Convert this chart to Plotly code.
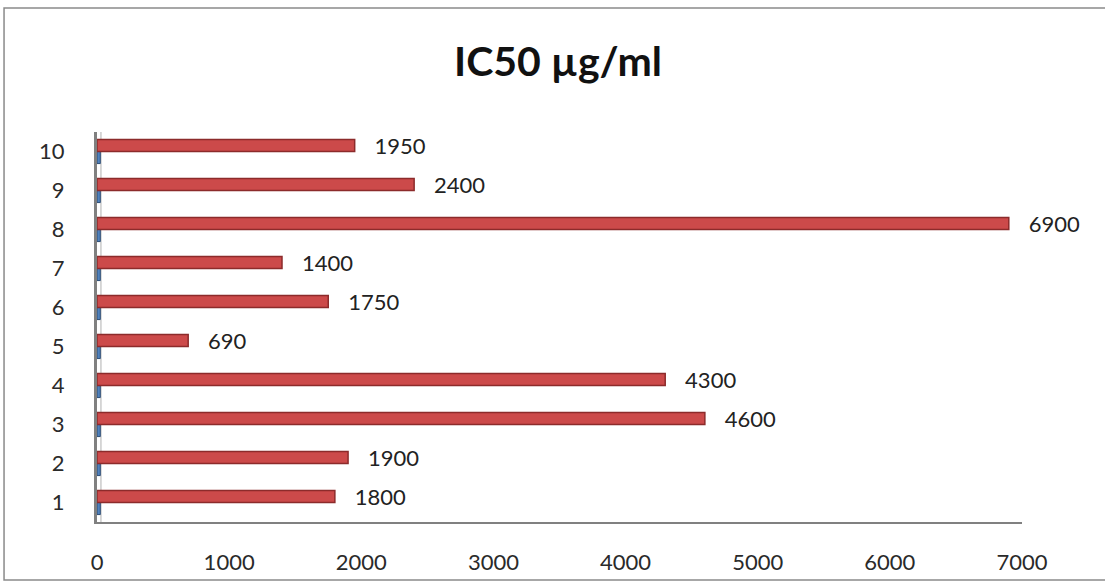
import plotly.graph_objects as go

categories = ["1", "2", "3", "4", "5", "6", "7", "8", "9", "10"]
ic50 = [1800, 1900, 4600, 4300, 690, 1750, 1400, 6900, 2400, 1950]
# small second series that only shows as slivers at the axis
minor = [25, 25, 25, 25, 25, 25, 25, 25, 25, 25]
x_ticks = [0, 1000, 2000, 3000, 4000, 5000, 6000, 7000]

font_name = "Lato, 'Open Sans', sans-serif"

fig = go.Figure()
fig.add_trace(go.Bar(
    y=categories, x=minor, orientation="h", name="series1",
    marker=dict(color="#4f81bd", line=dict(color="#2c4d75", width=1)),
    hoverinfo="skip",
))
fig.add_trace(go.Bar(
    y=categories, x=ic50, orientation="h", name="IC50",
    marker=dict(color="#cc4a4a", line=dict(color="#8c2b2b", width=1.5)),
    text=ic50, texttemplate="   %{x}", textposition="outside",
    constraintext="none",
    textfont=dict(size=22, color="#222222", family=font_name),
    cliponaxis=False,
))

fig.update_layout(
    width=1105, height=588,
    margin=dict(l=97, r=83, t=132, b=66, autoexpand=False),
    paper_bgcolor="white", plot_bgcolor="white",
    barmode="group", bargap=0.38, bargroupgap=0.0,
    showlegend=False,
    title=dict(text="<b>IC50 µg/ml</b>", x=0.505, xanchor="center", y=0.895, yanchor="middle",
               font=dict(size=41, color="#111111", family=font_name)),
    font=dict(family=font_name, size=22, color="#222222"),
    # outer chart frame
    shapes=[dict(type="rect", xref="paper", yref="paper", x0=-0.1005, x1=1.095, y0=-0.149, y1=1.318,
                 line=dict(color="#8a8a8a", width=1.5)),
            # second line of the 3D side wall, kept behind the bars
            dict(type="line", xref="x", yref="paper", x0=30, x1=30, y0=0, y1=1,
                 layer="below", line=dict(color="#b0b0b0", width=1))],
)
fig.update_xaxes(range=[0, 7000], tickvals=x_ticks, showgrid=False, zeroline=False,
                 showline=True, linecolor="#808080", linewidth=2,
                 ticks="", ticklabelstandoff=20, tickfont=dict(size=22, color="#2a2a2a"))
fig.update_yaxes(categoryorder="array", categoryarray=categories, showgrid=False,
                 showline=True, linecolor="#808080", linewidth=3,
                 ticks="", ticklabelstandoff=25, tickfont=dict(size=22, color="#2a2a2a"))

fig.write_html("out.html", config={"displayModeBar": False},
               post_script="document.body.style.margin='0';")
